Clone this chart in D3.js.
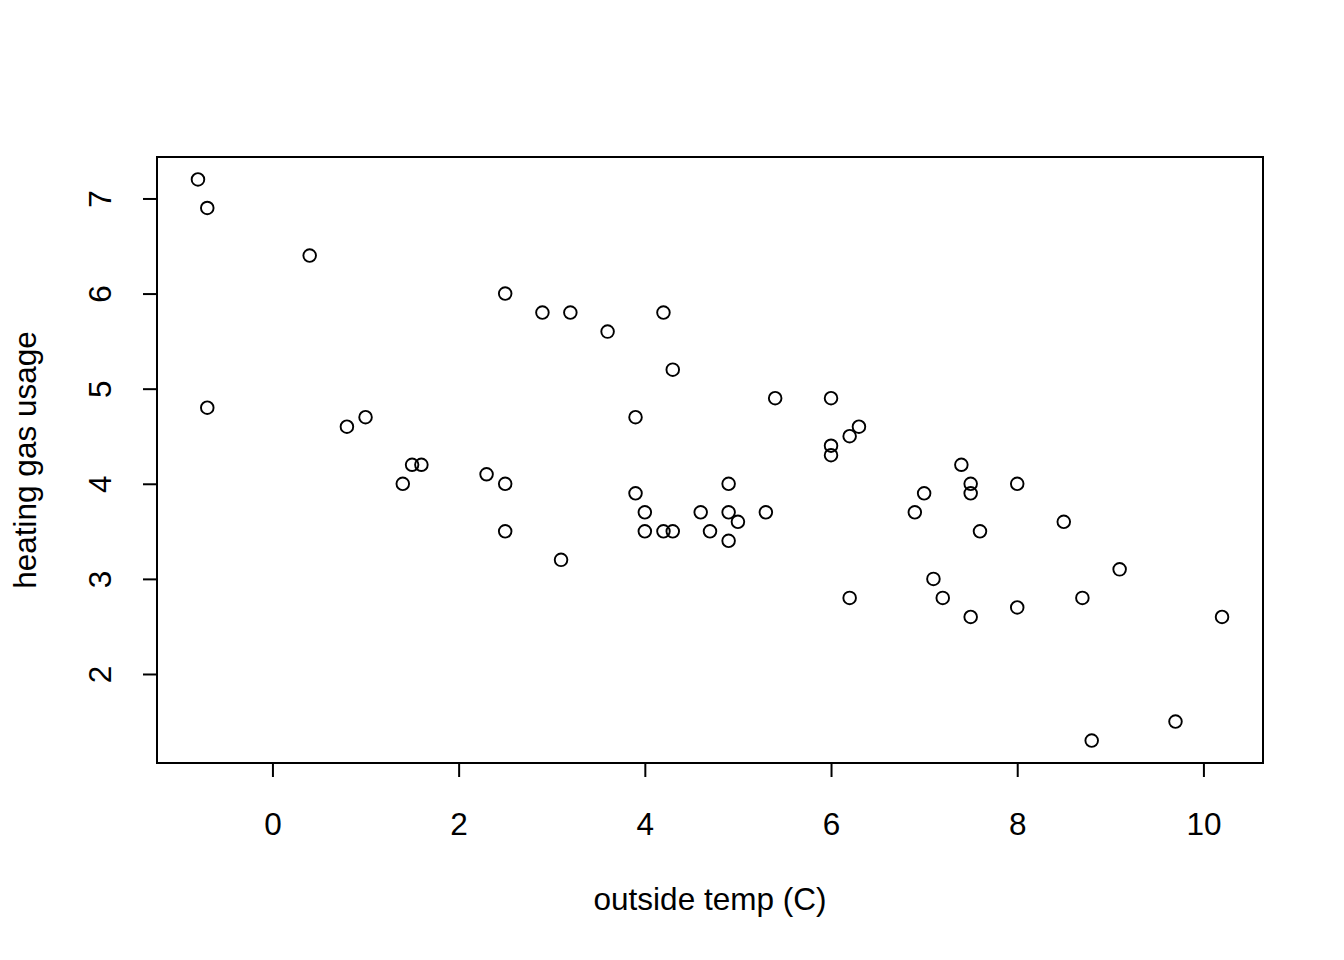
<!DOCTYPE html>
<html><head><meta charset="utf-8">
<script src="https://cdn.jsdelivr.net/npm/d3@7"></script>
<style>body{margin:0;background:#fff}svg{display:block}text{font-family:"Liberation Sans",Arial,sans-serif}</style>
</head><body>
<script>
const temp = [-0.8,-0.7,0.4,2.5,2.9,3.2,3.6,3.9,4.2,4.3,5.4,6.0,6.0,6.0,6.2,6.3,6.9,7.0,7.4,7.5,7.5,7.6,8.0,8.5,9.1,10.2,
  -0.7,0.8,1.0,1.4,1.5,1.6,2.3,2.5,2.5,3.1,3.9,4.0,4.0,4.2,4.3,4.6,4.7,4.9,4.9,4.9,5.0,5.3,6.2,7.1,7.2,7.5,8.0,8.7,8.8,9.7];
const gas = [7.2,6.9,6.4,6.0,5.8,5.8,5.6,4.7,5.8,5.2,4.9,4.9,4.3,4.4,4.5,4.6,3.7,3.9,4.2,4.0,3.9,3.5,4.0,3.6,3.1,2.6,
  4.8,4.6,4.7,4.0,4.2,4.2,4.1,4.0,3.5,3.2,3.9,3.5,3.7,3.5,3.5,3.7,3.5,3.4,3.7,4.0,3.6,3.7,2.8,3.0,2.8,2.6,2.7,2.8,1.3,1.5];
const xTicks = [0,2,4,6,8,10];
const yTicks = [2,3,4,5,6,7];

const FS = 31.5;
const W=1344,H=960, L=157,R=1263,T=157,B=763;
const svg=d3.select("body").append("svg").attr("width",W).attr("height",H);
const xr=d3.extent(temp), yr=d3.extent(gas);
const xp=(xr[1]-xr[0])*0.04, yp=(yr[1]-yr[0])*0.04;
const x=d3.scaleLinear().domain([xr[0]-xp,xr[1]+xp]).range([L,R]);
const y=d3.scaleLinear().domain([yr[0]-yp,yr[1]+yp]).range([B,T]);

const xa=d3.axisBottom(x).tickValues(xTicks).tickSize(14).tickPadding(36).tickFormat(d3.format("d"));
const gx=svg.append("g").attr("transform",`translate(0,${B})`).call(xa);
gx.attr("font-size",FS).attr("font-family","Liberation Sans, Arial, sans-serif");
gx.select(".domain").remove();
gx.append("line").attr("x1",x(xTicks[0])).attr("x2",x(xTicks[xTicks.length-1])).attr("stroke","#000").attr("stroke-width",2);
gx.selectAll(".tick line").attr("stroke-width",2);
gx.selectAll("text").attr("fill","#000");

const ya=d3.axisLeft(y).tickValues(yTicks).tickSize(14).tickFormat(d3.format("d"));
const gy=svg.append("g").attr("transform",`translate(${L},0)`).call(ya);
gy.attr("font-size",FS).attr("font-family","Liberation Sans, Arial, sans-serif");
gy.select(".domain").remove();
gy.append("line").attr("y1",y(yTicks[0])).attr("y2",y(yTicks[yTicks.length-1])).attr("stroke","#000").attr("stroke-width",2);
gy.selectAll(".tick line").attr("stroke-width",2);
gy.selectAll(".tick text").attr("fill","#000")
  .attr("x",0).attr("text-anchor","middle").attr("transform","translate(-57,0) rotate(-90)").attr("dy","0.35em");

svg.append("rect").attr("x",L).attr("y",T).attr("width",R-L).attr("height",B-T)
  .attr("fill","none").attr("stroke","#000").attr("stroke-width",2);

svg.append("g").selectAll("circle").data(temp.map((t,i)=>[t,gas[i]])).join("circle")
  .attr("cx",d=>x(d[0])).attr("cy",d=>y(d[1])).attr("r",6.3)
  .attr("fill","none").attr("stroke","#000").attr("stroke-width",1.9);

svg.append("text").attr("x",(L+R)/2).attr("y",910).attr("text-anchor","middle").attr("font-size",FS).text("outside temp (C)");
svg.append("text").attr("transform",`translate(36,${(T+B)/2}) rotate(-90)`).attr("text-anchor","middle").attr("font-size",FS).text("heating gas usage");
</script>
</body></html>
